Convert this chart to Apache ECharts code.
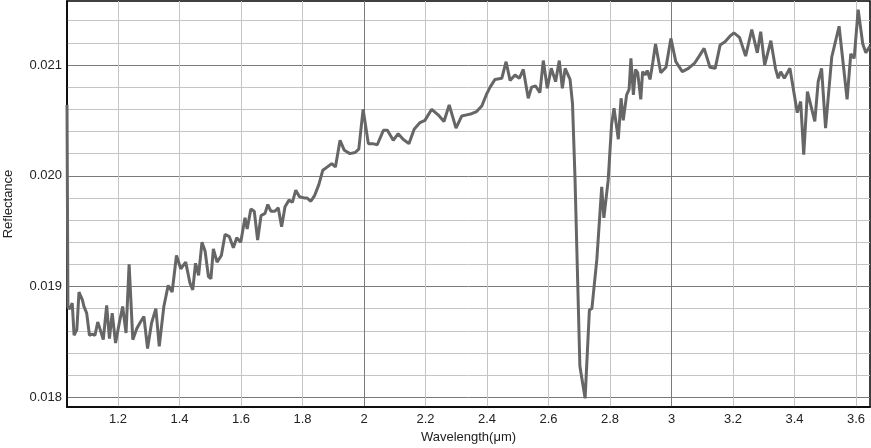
<!DOCTYPE html>
<html>
<head>
<meta charset="utf-8">
<script src="https://cdn.jsdelivr.net/npm/echarts@6/dist/echarts.min.js"></script>
<style>
html,body{margin:0;padding:0;background:#fff;}
#chart{width:871px;height:448px;}
</style>
</head>
<body>
<div id="chart"></div>
<script>
// Wavelength (µm)
const wavelength = [
1.034,1.037,1.044,1.051,1.057,1.066,1.073,1.084,1.089,1.098,
1.107,1.116,1.125,1.134,1.141,1.152,1.163,1.172,1.181,1.192,
1.204,1.215,1.226,1.236,1.248,1.261,1.271,1.284,1.296,1.309,
1.323,1.334,1.349,1.363,1.376,1.390,1.404,1.420,1.434,1.443,
1.452,1.462,1.473,1.483,1.494,1.502,1.510,1.522,1.536,1.548,
1.562,1.575,1.586,1.599,1.613,1.620,1.632,1.643,1.654,1.665,
1.678,1.687,1.697,1.710,1.721,1.732,1.743,1.756,1.767,1.778,
1.790,1.805,1.814,1.827,1.839,1.853,1.866,1.881,1.895,1.907,
1.922,1.936,1.954,1.971,1.983,1.997,2.014,2.028,2.043,2.063,
2.076,2.095,2.111,2.127,2.146,2.163,2.182,2.198,2.220,2.241,
2.260,2.277,2.299,2.318,2.334,2.350,2.366,2.383,2.399,2.410,
2.426,2.448,2.462,2.475,2.491,2.505,2.518,2.534,2.545,2.558,
2.572,2.583,2.596,2.609,2.623,2.635,2.645,2.654,2.670,2.678,
2.686,2.702,2.719,2.733,2.741,2.757,2.773,2.780,2.794,2.805,
2.813,2.827,2.836,2.843,2.854,2.862,2.868,2.876,2.883,2.890,
2.900,2.906,2.914,2.921,2.930,2.939,2.948,2.965,2.982,2.998,
3.014,3.035,3.055,3.076,3.090,3.106,3.125,3.142,3.158,3.174,
3.190,3.203,3.221,3.241,3.261,3.279,3.290,3.303,3.323,3.338,
3.347,3.355,3.367,3.385,3.409,3.420,3.430,3.442,3.466,3.477,
3.488,3.501,3.521,3.545,3.571,3.583,3.594,3.607,3.622,3.632,
3.645
];
// Reflectance
const reflectance = [
0.02064,0.01881,0.01880,0.01885,0.01856,0.01861,0.01895,0.01888,0.01882,0.01876,
0.01856,0.01857,0.01856,0.01868,0.01862,0.01852,0.01883,0.01853,0.01876,0.01849,
0.01867,0.01882,0.01858,0.01920,0.01852,0.01862,0.01867,0.01873,0.01844,0.01867,
0.01880,0.01846,0.01882,0.01901,0.01895,0.01928,0.01916,0.01922,0.01903,0.01897,
0.01921,0.01910,0.01940,0.01932,0.01909,0.01907,0.01934,0.01922,0.01928,0.01947,
0.01945,0.01935,0.01944,0.01940,0.01962,0.01952,0.01970,0.01968,0.01942,0.01964,
0.01966,0.01974,0.01968,0.01968,0.01971,0.01954,0.01972,0.01978,0.01976,0.01987,
0.01981,0.01980,0.01980,0.01977,0.01982,0.01992,0.02005,0.02008,0.02011,0.02008,
0.02032,0.02023,0.02020,0.02021,0.02024,0.02060,0.02029,0.02029,0.02028,0.02041,
0.02041,0.02032,0.02038,0.02033,0.02029,0.02042,0.02048,0.02050,0.02060,0.02055,
0.02049,0.02064,0.02043,0.02054,0.02055,0.02056,0.02058,0.02063,0.02074,0.02080,
0.02087,0.02088,0.02103,0.02086,0.02091,0.02088,0.02096,0.02070,0.02080,0.02081,
0.02075,0.02104,0.02079,0.02097,0.02085,0.02104,0.02079,0.02097,0.02087,0.02065,
0.01999,0.01828,0.01799,0.01879,0.01880,0.01924,0.01990,0.01962,0.01996,0.02046,
0.02061,0.02033,0.02070,0.02050,0.02073,0.02078,0.02106,0.02073,0.02096,0.02093,
0.02069,0.02094,0.02091,0.02095,0.02087,0.02102,0.02119,0.02093,0.02098,0.02124,
0.02103,0.02094,0.02097,0.02102,0.02108,0.02115,0.02098,0.02097,0.02118,0.02121,
0.02126,0.02129,0.02125,0.02108,0.02132,0.02111,0.02130,0.02100,0.02122,0.02097,
0.02088,0.02094,0.02088,0.02097,0.02057,0.02067,0.02019,0.02076,0.02049,0.02085,
0.02097,0.02043,0.02107,0.02135,0.02069,0.02110,0.02106,0.02150,0.02119,0.02111,
0.02117
];
const xTickLabels = [1.2,1.4,1.6,1.8,2,2.2,2.4,2.6,2.8,3,3.2,3.4,3.6];
const xMajorLines = [2,3];
const yTickLabels = [0.018,0.019,0.020,0.021];
const yMinorLines = [0.0182,0.0184,0.0186,0.0188,0.0192,0.0194,0.0196,0.0198,0.0202,0.0204,0.0206,0.0208,0.0212,0.0214];

const X_MIN = 1.034, X_MAX = 3.6455, Y_MIN = 0.017912, Y_MAX = 0.021578;
const seriesData = wavelength.map((w,i)=>[w, reflectance[i]]);
const FONT = 'Liberation Sans, Arial, sans-serif';

const chart = echarts.init(document.getElementById('chart'), null, {renderer:'canvas'});
chart.setOption({
  animation:false,
  backgroundColor:'#fff',
  grid:{left:67,right:1,top:1,bottom:41,containLabel:false,outerBoundsMode:'none',
        show:true,borderColor:'#000',borderWidth:1.5,backgroundColor:'transparent'},
  xAxis:[
    {type:'value',min:X_MIN,max:X_MAX,position:'bottom',
     name:'Wavelength(μm)',nameLocation:'middle',nameGap:24,
     nameTextStyle:{fontFamily:FONT,fontSize:13,color:'#222'},
     axisLine:{show:true,lineStyle:{color:'#000',width:1.5}},
     axisTick:{show:false,customValues:xTickLabels},
     axisLabel:{customValues:xTickLabels,fontFamily:FONT,fontSize:13,color:'#222',margin:6,
       formatter:v=>String(+v.toFixed(2))},
     splitLine:{show:true,lineStyle:{color:'#c4c4c4',width:1}}},
    {type:'value',min:X_MIN,max:X_MAX,position:'top',
     axisLine:{show:false},axisTick:{show:false,customValues:xMajorLines},axisLabel:{show:false},
     splitLine:{show:true,lineStyle:{color:'#7a7a7a',width:1}}}
  ],
  yAxis:[
    {type:'value',min:Y_MIN,max:Y_MAX,position:'left',
     name:'Reflectance',nameLocation:'middle',nameGap:52,nameRotate:90,
     nameTextStyle:{fontFamily:FONT,fontSize:13,color:'#222'},
     axisLine:{show:true,lineStyle:{color:'#000',width:1.5}},
     axisTick:{show:false,customValues:yTickLabels},
     axisLabel:{customValues:yTickLabels,fontFamily:FONT,fontSize:13,color:'#222',margin:5,
       formatter:v=>v.toFixed(3)},
     splitLine:{show:true,lineStyle:{color:'#7a7a7a',width:1}}},
    {type:'value',min:Y_MIN,max:Y_MAX,position:'right',
     axisLine:{show:false},axisTick:{show:false,customValues:yMinorLines},axisLabel:{show:false},
     splitLine:{show:true,lineStyle:{color:'#c4c4c4',width:1}}}
  ],
  series:[{
    type:'line',xAxisIndex:0,yAxisIndex:0,data:seriesData,
    showSymbol:false,symbol:'none',smooth:false,
    lineStyle:{color:'#666666',width:3},
    z:5
  }]
});
</script>
</body>
</html>
